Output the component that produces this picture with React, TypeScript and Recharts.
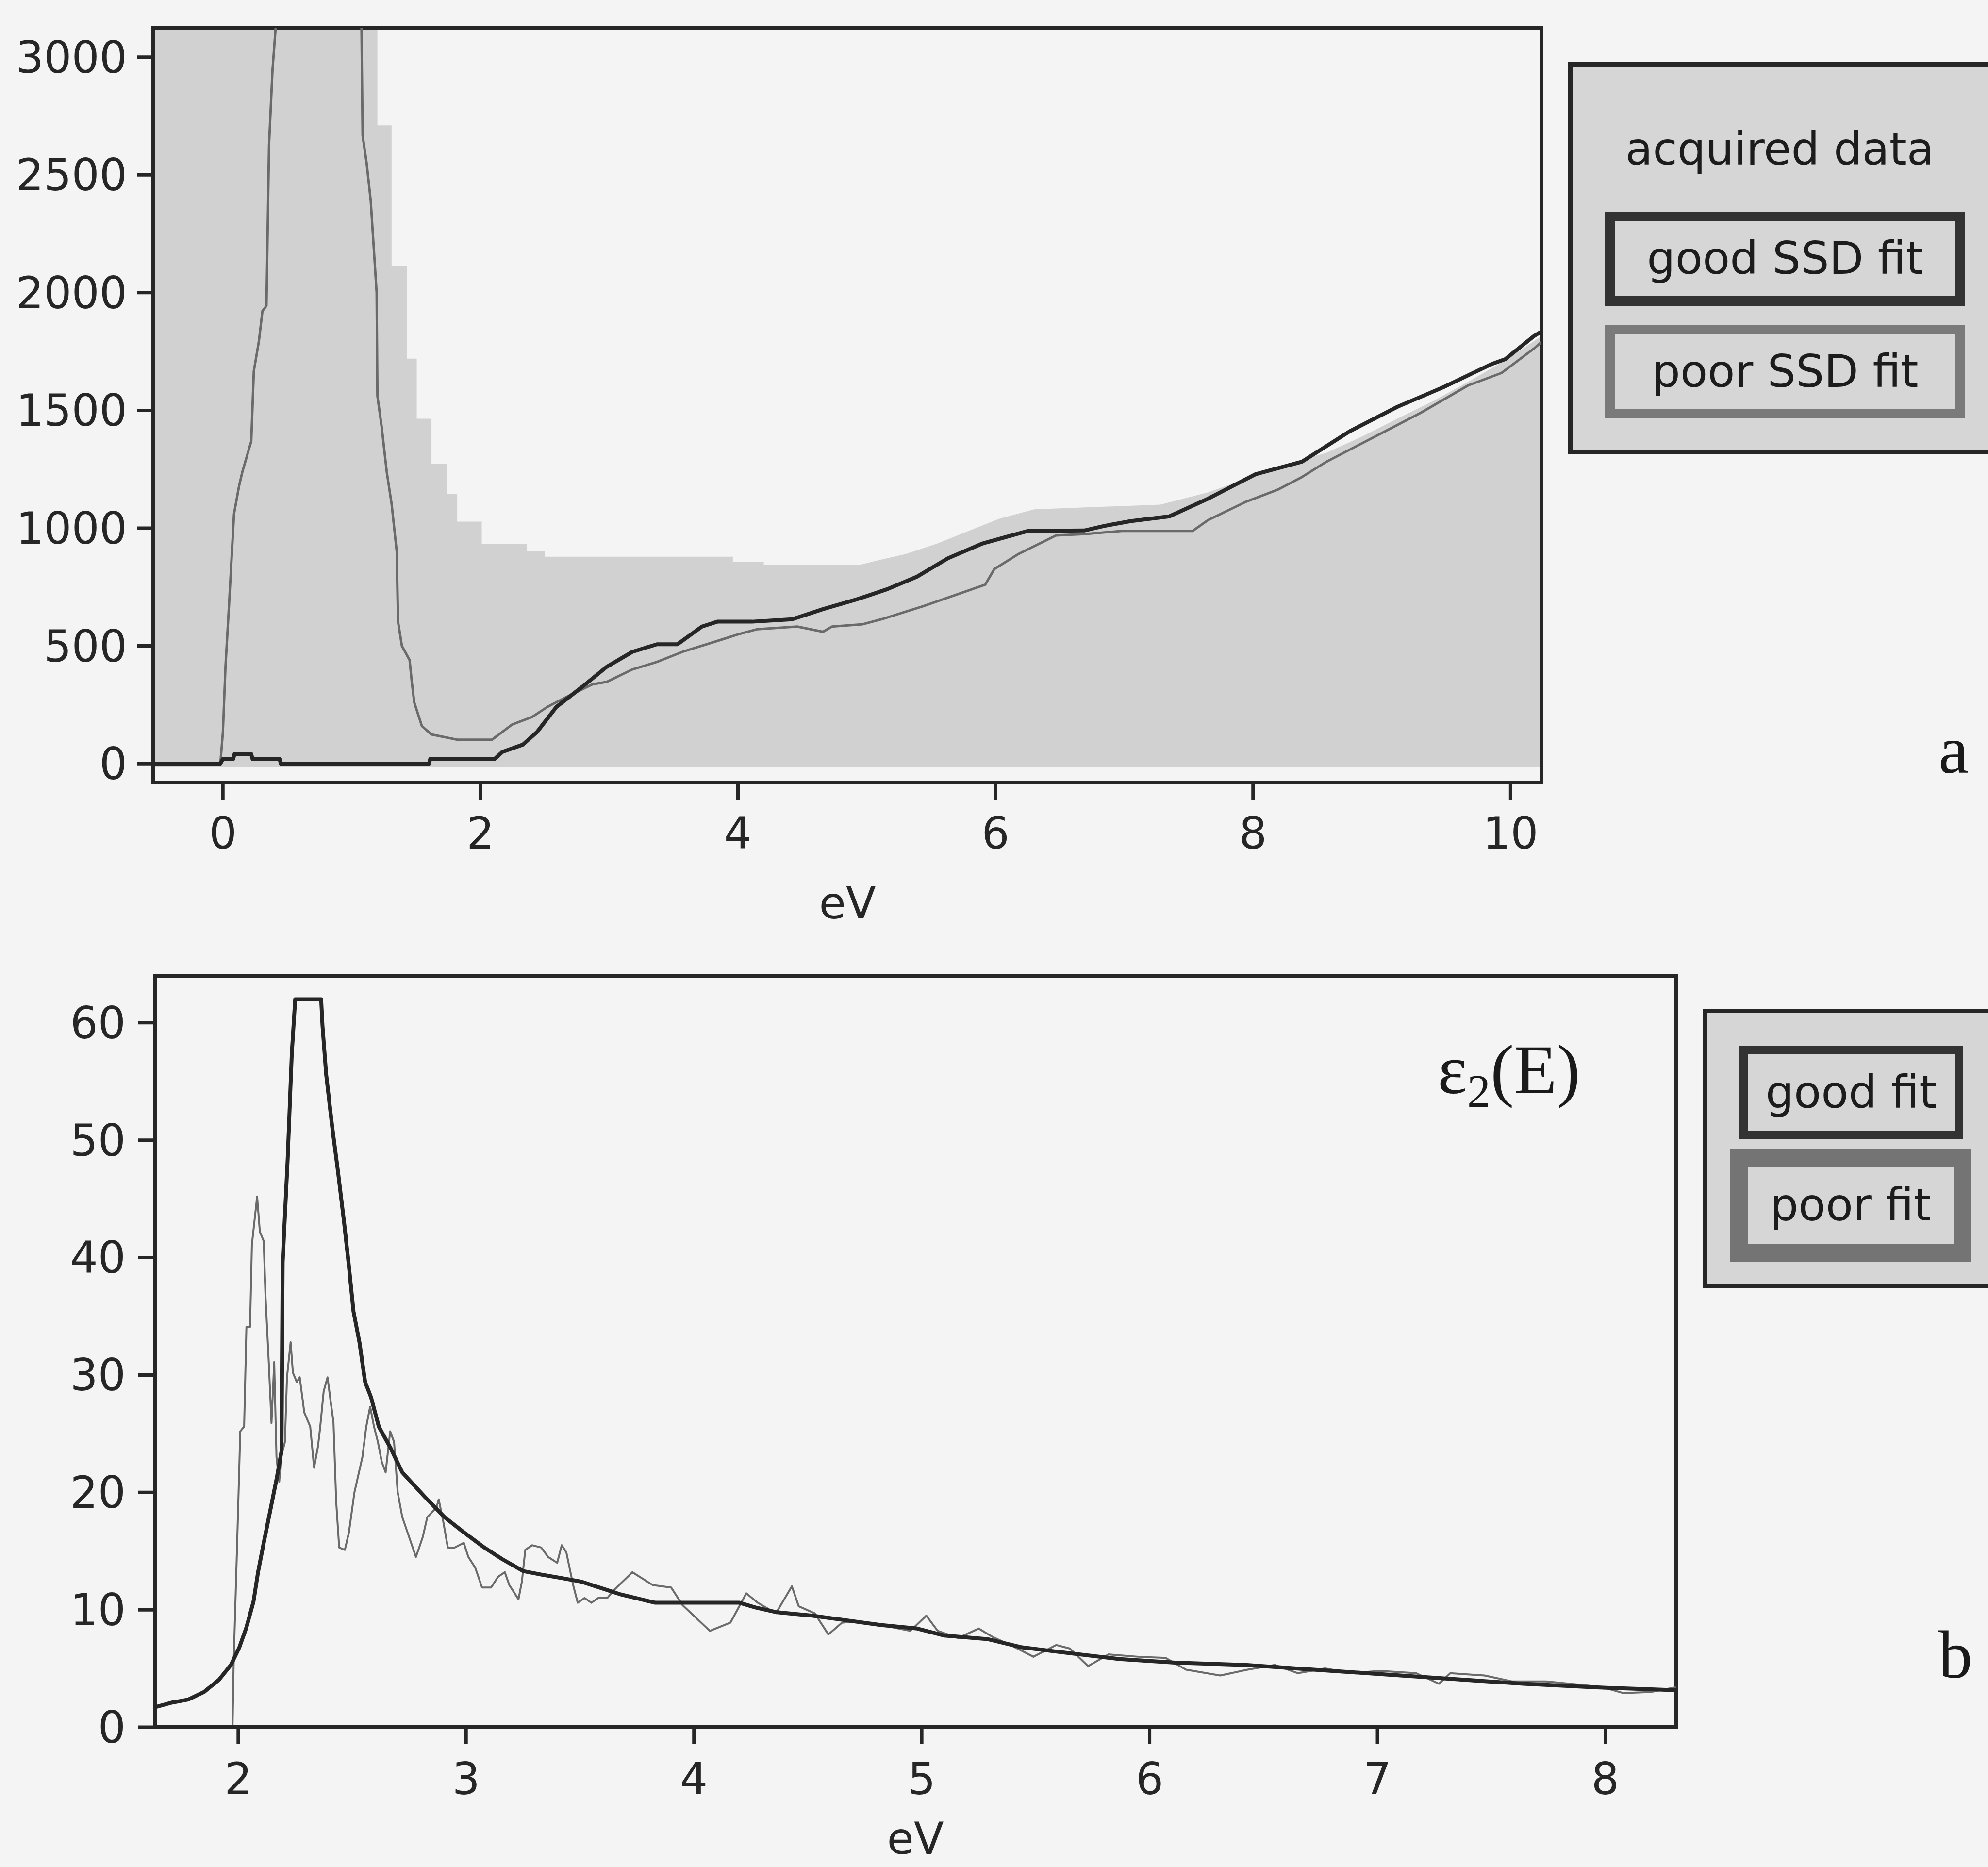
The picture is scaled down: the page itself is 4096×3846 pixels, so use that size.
import React from 'react';
import { ComposedChart, Line, Area, XAxis, YAxis, Legend, ReferenceArea } from 'recharts';

type Pt = [number, number];

// ---- axis ticks and ranges ----
const lossEvTicks = [0, 2, 4, 6, 8, 10];
const countTicks = [0, 500, 1000, 1500, 2000, 2500, 3000];
const epsEvTicks = [2, 3, 4, 5, 6, 7, 8];
const epsTicks = [0, 10, 20, 30, 40, 50, 60];
const lossEvRange: Pt = [-0.54, 10.24];
const countRange: Pt = [-80, 3125];
const epsEvRange: Pt = [1.634, 8.31];
const epsRange: Pt = [0, 64];

// ---- panel a: loss spectrum (eV, counts) ----
const acquiredData: Pt[] = [
  [-0.54, 4000], [1.2, 4000], [1.2, 2710], [1.31, 2710], [1.31, 2114], [1.43, 2114],
  [1.43, 1720], [1.505, 1720], [1.505, 1465], [1.62, 1465], [1.62, 1273], [1.74, 1273],
  [1.74, 1146], [1.82, 1146], [1.82, 1028], [2.01, 1028], [2.01, 933], [2.36, 933],
  [2.36, 901], [2.5, 901], [2.5, 879], [3.96, 879], [3.96, 858], [4.2, 858], [4.2, 845],
  [4.95, 845], [5.1, 865], [5.3, 890], [5.55, 935], [5.8, 990], [6.03, 1040], [6.3, 1080],
  [7.28, 1100], [7.65, 1152], [7.95, 1210], [8.23, 1268], [8.57, 1320], [8.85, 1390],
  [9.12, 1465], [9.4, 1540], [9.67, 1621], [9.95, 1710], [10.24, 1815],
];

const goodSsdFit: Pt[] = [
  [-0.54, 0], [-0.02, 0], [0.0, 20], [0.08, 20], [0.09, 41], [0.22, 41], [0.23, 20],
  [0.44, 20], [0.45, 0], [1.6, 0], [1.61, 20], [2.11, 20], [2.17, 50], [2.33, 81],
  [2.44, 135], [2.59, 241], [2.79, 326], [2.98, 411], [3.18, 475], [3.37, 507], [3.53, 507],
  [3.72, 582], [3.84, 603], [4.11, 603], [4.42, 613], [4.66, 656], [4.93, 699], [5.16, 741],
  [5.39, 794], [5.63, 872], [5.9, 935], [6.25, 988], [6.69, 990], [6.85, 1010], [7.05, 1030],
  [7.35, 1050], [7.65, 1125], [8.02, 1229], [8.38, 1282], [8.75, 1411], [9.12, 1515],
  [9.48, 1599], [9.85, 1696], [9.96, 1718], [10.18, 1815], [10.24, 1835],
];

const poorSsdFit: Pt[] = [
  [-0.54, 0], [-0.02, 0], [0.0, 135], [0.02, 411], [0.047, 667], [0.086, 1060], [0.125, 1178],
  [0.152, 1241], [0.22, 1369], [0.24, 1667], [0.28, 1795], [0.307, 1922], [0.338, 1944],
  [0.358, 2625], [0.385, 2944], [0.42, 3200], [0.75, 9000], [1.075, 3200], [1.085, 2667],
  [1.116, 2550], [1.148, 2390], [1.194, 2000], [1.2, 1561], [1.233, 1430], [1.272, 1240],
  [1.311, 1100], [1.35, 900], [1.36, 603], [1.39, 500], [1.45, 440], [1.467, 347],
  [1.486, 260], [1.545, 160], [1.62, 124], [1.82, 102], [2.09, 102], [2.245, 166], [2.4, 198],
  [2.52, 241], [2.67, 284], [2.87, 337], [2.98, 347], [3.18, 400], [3.37, 432], [3.57, 475],
  [3.88, 528], [4.0, 549], [4.15, 571], [4.46, 582], [4.66, 560], [4.73, 582], [4.97, 592],
  [5.12, 614], [5.44, 669], [5.92, 760], [5.99, 826], [6.18, 891], [6.47, 969], [6.69, 975],
  [6.98, 988], [7.53, 988], [7.65, 1034], [7.94, 1111], [8.19, 1163], [8.38, 1217],
  [8.57, 1282], [8.93, 1384], [9.3, 1489], [9.67, 1606], [9.93, 1659], [10.18, 1762],
  [10.24, 1790],
];

// ---- panel b: ε2(E) (eV, ε2) ----
const goodEps: Pt[] = [
  [1.634, 1.7], [1.71, 2.1], [1.78, 2.35], [1.85, 3.0], [1.916, 4.05], [1.968, 5.3],
  [2.005, 6.8], [2.036, 8.5], [2.067, 10.7], [2.087, 13.2], [2.113, 15.8], [2.139, 18.3],
  [2.17, 21.3], [2.19, 23.5], [2.195, 39.6], [2.217, 48.4], [2.235, 57.3], [2.25, 62.0],
  [2.364, 62.0], [2.37, 59.7], [2.386, 55.6], [2.412, 51.2], [2.438, 47.3], [2.464, 43.1],
  [2.484, 39.6], [2.506, 35.4], [2.532, 32.8], [2.557, 29.4], [2.583, 28.1], [2.617, 25.6],
  [2.668, 23.8], [2.72, 21.7], [2.82, 19.6], [2.905, 17.9], [2.99, 16.6], [3.08, 15.3],
  [3.16, 14.3], [3.25, 13.3], [3.33, 13.0], [3.42, 12.7], [3.505, 12.4], [3.68, 11.3],
  [3.83, 10.6], [4.2, 10.6], [4.27, 10.2], [4.36, 9.8], [4.52, 9.5], [4.67, 9.1], [4.82, 8.7],
  [4.98, 8.4], [5.1, 7.8], [5.29, 7.5], [5.44, 6.8], [5.65, 6.3], [5.87, 5.8], [6.11, 5.5],
  [6.42, 5.3], [6.72, 4.9], [7.03, 4.5], [7.33, 4.1], [7.64, 3.7], [7.95, 3.4], [8.31, 3.15],
];

const poorEps: Pt[] = [
  [1.975, 0], [1.98, 5.5], [1.995, 15.5], [2.009, 25.2], [2.026, 25.6], [2.036, 34.1],
  [2.052, 34.1], [2.06, 41.1], [2.083, 45.2], [2.095, 42.2], [2.112, 41.4], [2.12, 36.6],
  [2.134, 31.1], [2.146, 25.9], [2.158, 31.1], [2.168, 23.0], [2.18, 20.9], [2.188, 23.0],
  [2.205, 24.3], [2.214, 29.8], [2.23, 32.8], [2.24, 30.2], [2.257, 29.4], [2.27, 29.8],
  [2.29, 26.8], [2.316, 25.6], [2.333, 22.1], [2.35, 23.9], [2.36, 25.6], [2.375, 28.6],
  [2.392, 29.8], [2.406, 27.7], [2.418, 26.0], [2.43, 19.2], [2.443, 15.3], [2.468, 15.1],
  [2.486, 16.6], [2.51, 20.0], [2.545, 23.0], [2.562, 25.6], [2.579, 27.3], [2.596, 25.6],
  [2.613, 24.3], [2.63, 22.6], [2.647, 21.7], [2.667, 25.2], [2.684, 24.3], [2.7, 20.0],
  [2.72, 17.9], [2.75, 16.2], [2.78, 14.5], [2.81, 16.2], [2.83, 17.9], [2.87, 18.7],
  [2.88, 19.4], [2.9, 17.5], [2.92, 15.3], [2.95, 15.3], [2.99, 15.7], [3.01, 14.5],
  [3.04, 13.6], [3.07, 11.9], [3.11, 11.9], [3.14, 12.8], [3.17, 13.2], [3.19, 12.1],
  [3.23, 10.9], [3.245, 12.4], [3.26, 15.1], [3.29, 15.5], [3.33, 15.3], [3.36, 14.5],
  [3.4, 14.0], [3.42, 15.5], [3.44, 14.9], [3.47, 12.1], [3.49, 10.6], [3.52, 11.0],
  [3.55, 10.6], [3.58, 11.0], [3.62, 11.0], [3.65, 11.7], [3.73, 13.2], [3.82, 12.1],
  [3.9, 11.9], [3.95, 10.4], [4.07, 8.2], [4.16, 8.9], [4.23, 11.4], [4.28, 10.6],
  [4.36, 9.7], [4.43, 12.0], [4.46, 10.3], [4.53, 9.7], [4.59, 7.9], [4.65, 8.9], [4.7, 9.0],
  [4.82, 8.7], [4.95, 8.2], [5.02, 9.5], [5.07, 8.2], [5.16, 7.6], [5.25, 8.4], [5.31, 7.7],
  [5.4, 6.9], [5.49, 6.0], [5.59, 7.0], [5.65, 6.7], [5.73, 5.2], [5.82, 6.2], [5.95, 6.0],
  [6.07, 5.9], [6.16, 4.9], [6.31, 4.4], [6.43, 4.9], [6.55, 5.3], [6.65, 4.6], [6.77, 5.0],
  [6.89, 4.6], [7.01, 4.8], [7.17, 4.6], [7.27, 3.7], [7.32, 4.6], [7.47, 4.4], [7.59, 3.9],
  [7.74, 3.9], [7.9, 3.6], [7.99, 3.4], [8.08, 2.9], [8.2, 3.0], [8.31, 3.4],
];

const topLegendLabels = ['acquired data', 'good SSD fit', 'poor SSD fit'];
const bottomLegendLabels = ['good fit', 'poor fit'];

const rows = (pts: Pt[]) => pts.map(([x, y]) => ({ x, y }));

const FONT = "'DejaVu Sans', 'Noto Sans', sans-serif";
const SERIF = "'Liberation Serif', 'DejaVu Serif', serif";
const INK = '#262626';
const GRAY_LINE = '#6a6a6a';
const PANEL_BG = '#d6d6d6';
const PAGE_BG = '#f4f4f4';

const tickText = { fontSize: 90, fill: INK, fontFamily: FONT };
const frameLine = { stroke: INK, strokeWidth: 8 };
const tickLine = { stroke: INK, strokeWidth: 7 };

const legendText: React.CSSProperties = {
  fontFamily: FONT,
  fontSize: 92,
  color: '#1c1c1c',
  whiteSpace: 'nowrap',
  lineHeight: 1,
};

const boxStyle = (
  left: number, top: number, width: number, height: number, border: number, color: string,
): React.CSSProperties => ({
  position: 'absolute', left, top, width, height, boxSizing: 'border-box',
  border: `${border}px solid ${color}`, background: PANEL_BG,
  display: 'flex', alignItems: 'center', justifyContent: 'center',
});

const TopLegend = () => (
  <div style={{ position: 'relative', width: 900, height: 807, boxSizing: 'border-box', border: `9px solid ${INK}`, background: PANEL_BG }}>
    <div style={{ ...legendText, position: 'absolute', left: 427, top: 171, transform: 'translate(-50%, -50%)' }}>
      {topLegendLabels[0]}
    </div>
    <div style={boxStyle(67, 299, 742, 194, 20, '#333333')}>
      <span style={legendText}>{topLegendLabels[1]}</span>
    </div>
    <div style={boxStyle(67, 532, 742, 193, 20, '#7a7a7a')}>
      <span style={legendText}>{topLegendLabels[2]}</span>
    </div>
  </div>
);

const BottomLegend = () => (
  <div style={{ position: 'relative', width: 700, height: 576, boxSizing: 'border-box', border: `9px solid ${INK}`, background: PANEL_BG }}>
    <div style={boxStyle(67, 67, 460, 193, 17, '#333333')}>
      <span style={legendText}>{bottomLegendLabels[0]}</span>
    </div>
    <div style={boxStyle(47, 280, 498, 232, 37, '#747474')}>
      <span style={legendText}>{bottomLegendLabels[1]}</span>
    </div>
  </div>
);

function LossPanel() {
  return (
    <ComposedChart width={4096} height={1950} margin={{ top: 57, right: 920, bottom: 0, left: 0 }}>
      <XAxis
        xAxisId="ev" dataKey="x" type="number" domain={lossEvRange} allowDataOverflow
        ticks={lossEvTicks} interval={0} height={338} tickSize={37} tickMargin={35}
        axisLine={frameLine} tickLine={tickLine} tick={tickText}
        label={{ value: 'eV', position: 'insideBottom', offset: 58, fontSize: 90, fill: INK, fontFamily: FONT }}
      />
      <YAxis
        yAxisId="counts" type="number" domain={countRange} allowDataOverflow ticks={countTicks}
        interval={0} width={316} tickSize={34} tickMargin={20}
        axisLine={frameLine} tickLine={tickLine} tick={tickText}
      />
      <Area
        xAxisId="ev" yAxisId="counts" data={rows(acquiredData)} dataKey="y" name={topLegendLabels[0]}
        type="linear" baseValue={-14} fill="#d1d1d1" fillOpacity={1} stroke="none" isAnimationActive={false}
      />
      <Line
        xAxisId="ev" yAxisId="counts" data={rows(poorSsdFit)} dataKey="y" name={topLegendLabels[2]}
        type="linear" stroke={GRAY_LINE} strokeWidth={5} dot={false} strokeLinejoin="round" isAnimationActive={false}
      />
      <Line
        xAxisId="ev" yAxisId="counts" data={rows(goodSsdFit)} dataKey="y" name={topLegendLabels[1]}
        type="linear" stroke={INK} strokeWidth={8} dot={false} strokeLinejoin="round" isAnimationActive={false}
      />
      {/* plot frame */}
      <ReferenceArea
        xAxisId="ev" yAxisId="counts" x1={lossEvRange[0]} x2={lossEvRange[1]} y1={countRange[0]} y2={countRange[1]}
        fill="none" fillOpacity={0} stroke={INK} strokeWidth={8} ifOverflow="visible"
      />
      <Legend
        layout="vertical" align="center" verticalAlign="middle"
        wrapperStyle={{ position: 'absolute', left: 3231, top: 128, width: 900, height: 807 }}
        content={() => <TopLegend />}
      />
    </ComposedChart>
  );
}

function EpsPanel() {
  return (
    <ComposedChart width={4096} height={1896} margin={{ top: 60, right: 643, bottom: 0, left: 0 }}>
      <XAxis
        xAxisId="ev" dataKey="x" type="number" domain={epsEvRange} allowDataOverflow
        ticks={epsEvTicks} interval={0} height={288} tickSize={34} tickMargin={40}
        axisLine={frameLine} tickLine={tickLine} tick={tickText}
        label={{ value: 'eV', position: 'insideBottom', offset: 27, fontSize: 90, fill: INK, fontFamily: FONT }}
      />
      <YAxis
        yAxisId="eps" type="number" domain={epsRange} allowDataOverflow ticks={epsTicks}
        interval={0} width={319} tickSize={34} tickMargin={26}
        axisLine={frameLine} tickLine={tickLine} tick={tickText}
      />
      <Line
        xAxisId="ev" yAxisId="eps" data={rows(poorEps)} dataKey="y" name={bottomLegendLabels[1]}
        type="linear" stroke={GRAY_LINE} strokeWidth={4} dot={false} strokeLinejoin="round" isAnimationActive={false}
      />
      <Line
        xAxisId="ev" yAxisId="eps" data={rows(goodEps)} dataKey="y" name={bottomLegendLabels[0]}
        type="linear" stroke={INK} strokeWidth={8} dot={false} strokeLinejoin="round" isAnimationActive={false}
      />
      {/* plot frame */}
      <ReferenceArea
        xAxisId="ev" yAxisId="eps" x1={epsEvRange[0]} x2={epsEvRange[1]} y1={epsRange[0]} y2={epsRange[1]}
        fill="none" fillOpacity={0} stroke={INK} strokeWidth={8} ifOverflow="visible"
      />
      <Legend
        layout="vertical" align="center" verticalAlign="middle"
        wrapperStyle={{ position: 'absolute', left: 3508, top: 128, width: 700, height: 576 }}
        content={() => <BottomLegend />}
      />
    </ComposedChart>
  );
}

export default function App() {
  return (
    <div style={{ position: 'absolute', left: 0, top: 0, width: 4096, height: 3846, overflow: 'hidden', background: PAGE_BG }}>
      <div style={{ position: 'absolute', left: 0, top: 0 }}>
        <LossPanel />
      </div>
      <div style={{ position: 'absolute', left: 0, top: 1950 }}>
        <EpsPanel />
      </div>
      <svg width={4096} height={3846} style={{ position: 'absolute', left: 0, top: 0, pointerEvents: 'none' }}>
        <text x={2962} y={2252} fontFamily={SERIF} fontSize={145} fill="#1a1a1a">
          <tspan>ε</tspan>
          <tspan dy={28} fontSize={96}>2</tspan>
          <tspan dy={-28}>(E)</tspan>
        </text>
        <text x={3994} y={1592} fontFamily={SERIF} fontSize={140} fill="#1a1a1a">a</text>
        <text x={3994} y={3456} fontFamily={SERIF} fontSize={140} fill="#1a1a1a">b</text>
      </svg>
    </div>
  );
}
